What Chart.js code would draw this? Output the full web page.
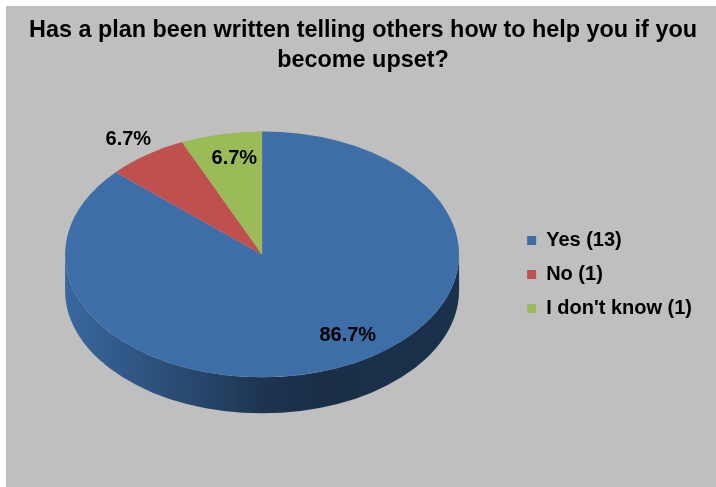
<!DOCTYPE html>
<html>
<head>
<meta charset="utf-8">
<script src="https://cdn.jsdelivr.net/npm/chart.js@4.4.1/dist/chart.umd.min.js"></script>
<style>
  html, body { margin: 0; padding: 0; background: #fff; }
  #frame { position: absolute; left: 6px; top: 6px; width: 710px; height: 481px; background: #bfbfbf; }
</style>
</head>
<body>
<div id="frame"><canvas id="planPie"></canvas></div>
<script>
const categories = ['Yes (13)', 'No (1)', "I don't know (1)"];
const responses = [13, 1, 1];
const sliceColors = ['#3d6ea8', '#c0504d', '#9bbb59'];

const TILT = 0.624;   // vertical squash of the pie face
const DEPTH = 36;     // thickness of the pie edge in px
// percentage labels: fraction of the radius along the slice mid-angle, plus a sideways nudge
const labelPlacement = [{r: 0.72, dx: 28}, {r: 1.155, dx: 0}, {r: 0.8, dx: 5}];

function shade(hex, f) {
  const n = parseInt(hex.slice(1), 16);
  const r = Math.round(((n >> 16) & 255) * f);
  const g = Math.round(((n >> 8) & 255) * f);
  const b = Math.round((n & 255) * f);
  return `rgb(${r},${g},${b})`;
}

// squashes the pie into an ellipse, draws the edge under it and the % labels on top
const tiltedPie = {
  id: 'tiltedPie',
  beforeDatasetsDraw(chart) {
    const ctx = chart.ctx;
    const arcs = chart.getDatasetMeta(0).data;
    const cx = arcs[0].x, cy = arcs[0].y;
    ctx.save();
    ctx.translate(cx, cy);
    ctx.scale(1, TILT);
    ctx.translate(-cx, -cy);
    const drop = DEPTH / TILT;
    arcs.forEach((arc, i) => {
      const r = arc.outerRadius;
      const a1 = Math.max(arc.startAngle, 0);
      const a2 = Math.min(arc.endAngle, Math.PI);
      if (a2 <= a1) return;
      const base = sliceColors[i];
      const grad = ctx.createLinearGradient(cx - r, 0, cx + r, 0);
      grad.addColorStop(0, shade(base, 0.94));
      grad.addColorStop(0.3, shade(base, 0.67));
      grad.addColorStop(0.5, shade(base, 0.48));
      grad.addColorStop(0.65, shade(base, 0.42));
      grad.addColorStop(1, shade(base, 0.45));
      ctx.beginPath();
      ctx.arc(cx, cy, r, a1, a2);
      ctx.arc(cx, cy + drop, r, a2, a1, true);
      ctx.closePath();
      ctx.fillStyle = grad;
      ctx.fill();
    });
  },
  afterDatasetsDraw(chart) {
    const ctx = chart.ctx;
    ctx.restore();
    const arcs = chart.getDatasetMeta(0).data;
    const total = responses.reduce((a, b) => a + b, 0);
    ctx.save();
    ctx.font = 'bold 20px "Liberation Sans", Arial, sans-serif';
    ctx.fillStyle = '#000';
    ctx.textAlign = 'center';
    ctx.textBaseline = 'middle';
    arcs.forEach((arc, i) => {
      const mid = (arc.startAngle + arc.endAngle) / 2;
      const p = labelPlacement[i];
      const lx = arc.x + Math.cos(mid) * arc.outerRadius * p.r + p.dx;
      const ly = arc.y + Math.sin(mid) * arc.outerRadius * p.r * TILT;
      ctx.fillText((responses[i] / total * 100).toFixed(1) + '%', lx, ly);
    });
    ctx.restore();
  }
};

Chart.defaults.font.family = '"Liberation Sans", Arial, sans-serif';
Chart.defaults.color = '#000';

new Chart(document.getElementById('planPie'), {
  type: 'pie',
  data: {
    labels: categories,
    datasets: [{
      data: responses,
      backgroundColor: sliceColors,
      borderWidth: 0,
      radius: 197,
      clip: false
    }]
  },
  options: {
    responsive: true,
    maintainAspectRatio: false,
    animation: false,
    events: [],
    layout: { padding: { left: 5, right: 14, top: 0, bottom: 54 } },
    plugins: {
      title: {
        display: true,
        // leading no-break spaces nudge the centred lines a little to the right
        text: ['\u00a0\u00a0Has a plan been written telling others how to help you if you', '\u00a0\u00a0become upset?'],
        font: { size: 23.4, weight: 'bold', lineHeight: 1.3 },
        color: '#000',
        padding: { top: 9, bottom: 0 }
      },
      legend: {
        position: 'right',
        // empty title only pushes the legend rows down
        title: { display: true, text: ' ', font: { size: 10, lineHeight: 1 }, padding: 50 },
        labels: {
          boxWidth: 9,
          boxHeight: 9,
          padding: 14,
          color: '#000',
          font: { size: 20, weight: 'bold' }
        }
      },
      tooltip: { enabled: false }
    }
  },
  plugins: [tiltedPie]
});
</script>
</body>
</html>
